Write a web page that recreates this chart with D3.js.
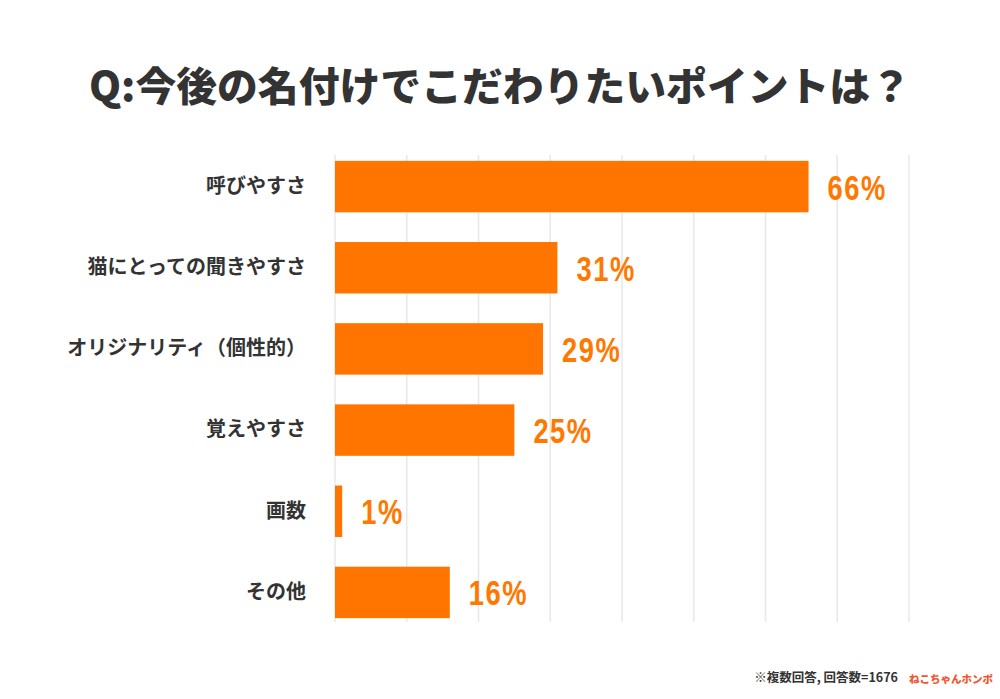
<!DOCTYPE html>
<html><head><meta charset="utf-8">
<script src="https://cdn.jsdelivr.net/npm/d3@7"></script>
<style>
html,body{margin:0;padding:0;background:#fff;}
svg{display:block;}
</style></head>
<body>
<svg id="chart" width="1000" height="699"></svg>
<script>
const categories = ["呼びやすさ","猫にとっての聞きやすさ","オリジナリティ（個性的）","覚えやすさ","画数","その他"];
const values = [66,31,29,25,1,16];
const tickValues = [0,10,20,30,40,50,60,70,80];
const title = "Q:今後の名付けでこだわりたいポイントは？";
const note = "※複数回答, 回答数=1676";
const brand = "ねこちゃんホンポ";

const svg = d3.select("#chart");
const x = d3.scaleLinear().domain([0,80]).range([335,909]);
const y = d3.scaleBand().domain(categories).range([146,633]).paddingInner(0.366).paddingOuter(0.183);

// grid
svg.append("g").selectAll("line").data(tickValues).join("line")
  .attr("x1",d=>x(d)).attr("x2",d=>x(d))
  .attr("y1",155).attr("y2",622)
  .attr("stroke","#e8e8e8").attr("stroke-width",1.5);

// title
svg.append("text").attr("x",500).attr("y",101).attr("text-anchor","middle")
  .attr("font-family","'Noto Sans CJK JP'").attr("font-weight",900)
  .attr("font-size",40).attr("textLength",822).attr("lengthAdjust","spacingAndGlyphs")
  .attr("fill","#333").text(title);

// bars
svg.append("g").selectAll("rect").data(values).join("rect")
  .attr("x",x(0)).attr("y",(d,i)=>y(categories[i]))
  .attr("width",d=>x(d)-x(0)).attr("height",y.bandwidth())
  .attr("fill","#ff7500");

// value labels (condensed by horizontal scaling)
svg.append("g").selectAll("text").data(values).join("text")
  .attr("transform",(d,i)=>`translate(${x(d)+19},${y(categories[i])+y.bandwidth()/2+13}) scale(0.78,1)`)
  .attr("font-family","'Liberation Sans'").attr("font-weight",700)
  .attr("font-size",35).attr("letter-spacing",2).attr("fill","#ff7800")
  .text(d=>d+"%");

// category axis
const yAxis = d3.axisLeft(y).tickSize(0).tickPadding(0);
const ga = svg.append("g").attr("transform","translate(306,0)").call(yAxis);
ga.select(".domain").remove();
ga.selectAll("text").attr("font-family","'Noto Sans CJK JP'").attr("font-weight",700)
  .attr("font-size",20).attr("fill","#333");

// footer
svg.append("text").attr("x",898).attr("y",682).attr("text-anchor","end")
  .attr("font-family","'Noto Sans CJK JP'").attr("font-weight",700)
  .attr("font-size",12.5).attr("fill","#333").text(note);
svg.append("text").attr("x",909).attr("y",683)
  .attr("font-family","'Noto Sans CJK JP'").attr("font-weight",900)
  .attr("font-size",10.5).attr("fill","#f2552c").text(brand);
</script>
</body></html>
